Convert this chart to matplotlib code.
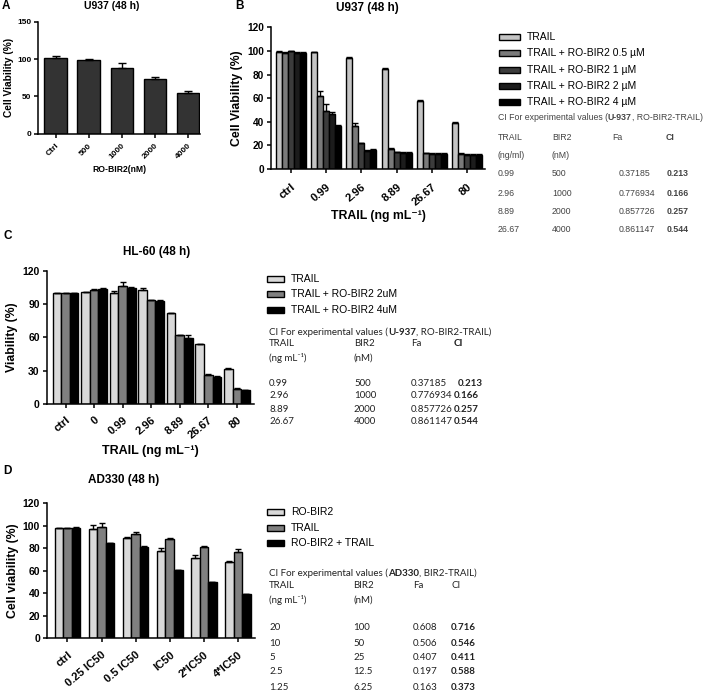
import numpy as np
import matplotlib
matplotlib.use('Agg')
import matplotlib.pyplot as plt
from matplotlib.patches import Rectangle

plt.rcParams['font.family'] = ['Liberation Sans', 'DejaVu Sans']

# ---- data ----
a_cats = ['Ctrl', '500', '1000', '2000', '4000']
a_vals = [101.2, 99.4, 87.8, 73.4, 55.0]
a_err = [2.7, 0.5, 7.6, 2.7, 2.3]

b_cats = ['ctrl', '0.99', '2.96', '8.89', '26.67', '80']
b_series = ['TRAIL', 'TRAIL + RO-BIR2 0.5 µM', 'TRAIL + RO-BIR2 1 µM',
            'TRAIL + RO-BIR2 2 µM', 'TRAIL + RO-BIR2 4 µM']
b_trail = [99.4, 98.9, 94.4, 84.5, 57.6, 38.7]
b_05 = [98.6, 62.1, 36.4, 17.2, 13.3, 12.7]
b_1 = [99.6, 49.2, 21.8, 14.1, 12.7, 11.9]
b_2 = [98.6, 46.3, 15.5, 13.8, 12.7, 12.1]
b_4 = [98.6, 36.4, 16.1, 13.8, 12.7, 12.1]
b_trail_err = [0.5, 0.6, 0.6, 1.0, 0.5, 0.8]
b_05_err = [0.5, 3.9, 2.3, 0.6, 0.5, 0.5]
b_1_err = [0.5, 5.8, 0.6, 0.5, 0.5, 0.5]
b_2_err = [0.5, 2.0, 0.5, 0.5, 0.5, 0.5]
b_4_err = [0.5, 0.5, 0.5, 0.5, 0.5, 0.5]

c_cats = ['ctrl', '0', '0.99', '2.96', '8.89', '26.67', '80']
c_series = ['TRAIL', 'TRAIL + RO-BIR2 2uM', 'TRAIL + RO-BIR2 4uM']
c_trail = [99.5, 100.5, 99.5, 102.5, 81.6, 53.7, 31.8]
c_2 = [99.5, 102.5, 106.0, 93.5, 61.8, 26.1, 13.6]
c_4 = [99.5, 103.5, 104.8, 93.0, 59.7, 24.4, 12.4]
c_trail_err = [0.4, 0.4, 2.0, 2.2, 0.5, 0.5, 0.5]
c_2_err = [0.4, 0.6, 4.0, 0.5, 0.5, 0.5, 0.4]
c_4_err = [0.4, 1.3, 0.8, 0.6, 2.1, 0.4, 0.4]

d_cats = ['ctrl', '0.25 IC50', '0.5 IC50', 'IC50', '2*IC50', '4*IC50']
d_series = ['RO-BIR2', 'TRAIL', 'RO-BIR2 + TRAIL']
d_bir2 = [97.5, 96.5, 89.3, 77.4, 70.9, 68.1]
d_trail = [97.5, 98.5, 92.6, 88.4, 81.0, 76.8]
d_comb = [98.0, 84.5, 81.0, 60.2, 49.8, 39.3]
d_bir2_err = [0.5, 4.2, 0.6, 3.0, 3.0, 0.8]
d_trail_err = [0.5, 4.0, 1.6, 0.5, 0.6, 2.2]
d_comb_err = [0.5, 0.4, 0.5, 0.4, 0.4, 0.4]

# table contents
b_tab_head = ['TRAIL', 'BIR2', 'Fa', 'CI']
b_tab_units = ['(ng/ml)', '(nM)']
b_tab_trail = ['0.99', '2.96', '8.89', '26.67']
b_tab_bir2 = ['500', '1000', '2000', '4000']
b_tab_fa = ['0.37185', '0.776934', '0.857726', '0.861147']
b_tab_ci = ['0.213', '0.166', '0.257', '0.544']

c_tab_trail = ['0.99', '2.96', '8.89', '26.67']
c_tab_bir2 = ['500', '1000', '2000', '4000']
c_tab_fa = ['0.37185', '0.776934', '0.857726', '0.861147']
c_tab_ci = ['0.213', '0.166', '0.257', '0.544']

d_tab_trail = ['20', '10', '5', '2.5', '1.25']
d_tab_bir2 = ['100', '50', '25', '12.5', '6.25']
d_tab_fa = ['0.608', '0.506', '0.407', '0.197', '0.163']
d_tab_ci = ['0.716', '0.546', '0.411', '0.588', '0.373']

W, H = 709, 694
fig = plt.figure(figsize=(W / 100, H / 100), dpi=100)


def px_axes(x0, y0, x1, y1):
    return fig.add_axes([x0 / W, 1 - y1 / H, (x1 - x0) / W, (y1 - y0) / H])


def fx(x):
    return x / W


def fy(y):
    return 1 - y / H


def style(ax, fs, xpad=2):
    for s in ['top', 'right']:
        ax.spines[s].set_visible(False)
    for s in ['left', 'bottom']:
        ax.spines[s].set_linewidth(1.1)
    ax.tick_params(direction='out', length=3, width=1.1, labelsize=fs, pad=2)
    ax.tick_params(axis='x', pad=xpad)
    for lab in ax.get_yticklabels():
        lab.set_fontweight('bold')


def grouped(ax, cats, vals, errs, colors, width):
    n = len(vals)
    x = np.arange(len(cats))
    for i, (v, e, c) in enumerate(zip(vals, errs, colors)):
        pos = x + (i - (n - 1) / 2) * width
        ax.bar(pos, v, width, color=c, edgecolor='black', linewidth=1.0, zorder=2)
        ax.errorbar(pos, v, yerr=[np.zeros(len(v)), e], fmt='none', ecolor='black',
                    elinewidth=1.0, capsize=2, capthick=1.0, zorder=3)
    ax.set_xticks(x)


def xlabels(ax, cats, fs, rot=45):
    ax.set_xticklabels(cats, rotation=rot, ha='right', rotation_mode='anchor',
                       fontsize=fs, fontweight='bold')


def legend_rows(x0, x1, ys, labels, colors, fs, h=6):
    for y, lab, c in zip(ys, labels, colors):
        fig.patches.append(Rectangle((fx(x0), fy(y + h / 2)), (x1 - x0) / W, h / H,
                                     transform=fig.transFigure, facecolor=c,
                                     edgecolor='black', linewidth=1.0))
        fig.text(fx(x1 + 7), fy(y), lab, fontsize=fs, va='center', ha='left')


def rainbow(x, y, parts, **kw):
    t = fig.text(fx(x), fy(y), parts[0][0], fontweight=parts[0][1], va='center', **kw)
    for s, w in parts[1:]:
        t = fig.axes[0].annotate(s, xy=(1, 0), xycoords=t, va='bottom', ha='left',
                                 fontweight=w, annotation_clip=False, **kw)


# ---- panel A ----
axA = px_axes(38.3, 22, 200, 133.7)
xa = np.arange(len(a_cats))
axA.bar(xa, a_vals, 0.68, color='#333333', edgecolor='black', linewidth=1.0, zorder=2)
axA.errorbar(xa, a_vals, yerr=[np.zeros(len(a_vals)), a_err], fmt='none', ecolor='black',
             elinewidth=1.0, capsize=3, capthick=1.0, zorder=3)
axA.set_xticks(xa)
axA.set_xlim(-0.52, 4.36)
axA.set_ylim(0, 150)
axA.set_yticks([0, 50, 100, 150])
style(axA, 6, xpad=3)
xlabels(axA, a_cats, 6)
axA.set_ylabel('Cell Viability (%)', fontsize=7.3, fontweight='bold', labelpad=2)
axA.set_xlabel('RO-BIR2(nM)', fontsize=6.2, fontweight='bold', labelpad=3)
fig.text(fx(112), fy(6), 'U937 (48 h)', fontsize=7.5, fontweight='bold', ha='center', va='center')
fig.text(fx(2), fy(6), 'A', fontsize=8.5, fontweight='bold', va='center')

# ---- panel B ----
axB = px_axes(271.3, 27.3, 485, 169)
b_colors = ['#c4c4c4', '#7a7a7a', '#3c3c3c', '#1c1c1c', '#000000']
grouped(axB, b_cats, [b_trail, b_05, b_1, b_2, b_4],
        [b_trail_err, b_05_err, b_1_err, b_2_err, b_4_err], b_colors, 0.17)
axB.set_xlim(-0.55, 5.5)
axB.set_ylim(0, 120)
axB.set_yticks(range(0, 121, 20))
style(axB, 7.3, xpad=6)
xlabels(axB, b_cats, 8, rot=40)
axB.set_ylabel('Cell Viability (%)', fontsize=8.8, fontweight='bold', labelpad=3)
axB.set_xlabel('TRAIL (ng mL⁻¹)', fontsize=8.8, fontweight='bold', labelpad=2)
fig.text(fx(367), fy(8), 'U937 (48 h)', fontsize=8.5, fontweight='bold', ha='center', va='center')
fig.text(fx(235), fy(6), 'B', fontsize=8.5, fontweight='bold', va='center')

legend_rows(499, 520, [37, 53, 70, 86, 102], b_series, b_colors, 7.5)
tb = dict(fontsize=6.3, color='#444444')
rainbow(498, 118, [('CI For experimental values (', 'normal'), ('U-937', 'bold'),
                   (', RO-BIR2-TRAIL)', 'normal')], **tb)
b_cols = [498, 552, 612, 666]
for xc, s in zip(b_cols, b_tab_head):
    fig.text(fx(xc), fy(137), s, va='center', fontweight='bold' if s == 'CI' else 'normal', **tb)
for xc, s in zip(b_cols, b_tab_units):
    fig.text(fx(xc), fy(156), s, va='center', **tb)
for i, y in enumerate([174, 193, 212, 230]):
    fig.text(fx(498), fy(y), b_tab_trail[i], va='center', **tb)
    fig.text(fx(552), fy(y), b_tab_bir2[i], va='center', **tb)
    fig.text(fx(619), fy(y), b_tab_fa[i], va='center', **tb)
    fig.text(fx(667), fy(y), b_tab_ci[i], va='center', fontweight='bold', **tb)

# ---- panel C ----
axC = px_axes(46.7, 270.7, 254, 404)
c_colors = ['#d9d9d9', '#808080', '#000000']
grouped(axC, c_cats, [c_trail, c_2, c_4], [c_trail_err, c_2_err, c_4_err], c_colors, 0.3)
axC.set_xlim(-0.66, 6.6)
axC.set_ylim(0, 120)
axC.set_yticks(range(0, 121, 30))
style(axC, 7.5, xpad=5)
xlabels(axC, c_cats, 8, rot=40)
axC.set_ylabel('Viability (%)', fontsize=8.8, fontweight='bold', labelpad=3)
axC.set_xlabel('TRAIL (ng mL⁻¹)', fontsize=9, fontweight='bold', labelpad=3)
fig.text(fx(157), fy(252), 'HL-60 (48 h)', fontsize=8.5, fontweight='bold', ha='center', va='center')
fig.text(fx(3), fy(236), 'C', fontsize=8.5, fontweight='bold', va='center')

legend_rows(267, 284, [279, 294, 310], c_series, c_colors, 7.5)
tc = dict(fontsize=7, color='#222222', family=['Lato', 'DejaVu Sans'])
rainbow(269, 332, [('CI For experimental values (', 'normal'), ('U-937', 'bold'),
                   (', RO-BIR2-TRAIL)', 'normal')], **tc)
fig.text(fx(269), fy(344), 'TRAIL', va='center', **tc)
fig.text(fx(354), fy(344), 'BIR2', va='center', **tc)
fig.text(fx(411), fy(344), 'Fa', va='center', **tc)
fig.text(fx(454), fy(344), 'CI', va='center', fontweight='bold', **tc)
fig.text(fx(269), fy(358), '(ng mL⁻¹)', va='center', **tc)
fig.text(fx(354), fy(358), '(nM)', va='center', **tc)
for i, y in enumerate([383, 396, 409, 422]):
    fig.text(fx(269), fy(y), c_tab_trail[i], va='center', **tc)
    fig.text(fx(354), fy(y), c_tab_bir2[i], va='center', **tc)
    fig.text(fx(411), fy(y), c_tab_fa[i], va='center', **tc)
    fig.text(fx(458 if i == 0 else 454), fy(y), c_tab_ci[i], va='center', fontweight='bold', **tc)

# ---- panel D ----
axD = px_axes(47, 503, 255, 638.3)
d_colors = ['#d9d9d9', '#808080', '#000000']
grouped(axD, d_cats, [d_bir2, d_trail, d_comb], [d_bir2_err, d_trail_err, d_comb_err],
        d_colors, 0.25)
axD.set_xlim(-0.6, 5.5)
axD.set_ylim(0, 120)
axD.set_yticks(range(0, 121, 20))
style(axD, 7.5, xpad=5)
xlabels(axD, d_cats, 8, rot=40)
axD.set_ylabel('Cell viability (%)', fontsize=8.8, fontweight='bold', labelpad=3)
fig.text(fx(124), fy(480), 'AD330 (48 h)', fontsize=8.5, fontweight='bold', ha='center', va='center')
fig.text(fx(3), fy(471), 'D', fontsize=8.5, fontweight='bold', va='center')

legend_rows(267, 284, [512, 528, 543], d_series, d_colors, 7.5)
rainbow(269, 573, [('CI For experimental values (', 'normal'), ('AD330', 'bold'),
                   (', BIR2-TRAIL)', 'normal')], **tc)
fig.text(fx(269), fy(586), 'TRAIL', va='center', **tc)
fig.text(fx(353), fy(586), 'BIR2', va='center', **tc)
fig.text(fx(413), fy(586), 'Fa', va='center', **tc)
fig.text(fx(452), fy(586), 'CI', va='center', **tc)
fig.text(fx(269), fy(600), '(ng mL⁻¹)', va='center', **tc)
fig.text(fx(353), fy(600), '(nM)', va='center', **tc)
for i, y in enumerate([628, 643, 657, 672, 687]):
    fig.text(fx(269), fy(y), d_tab_trail[i], va='center', **tc)
    fig.text(fx(353), fy(y), d_tab_bir2[i], va='center', **tc)
    fig.text(fx(413), fy(y), d_tab_fa[i], va='center', **tc)
    fig.text(fx(451), fy(y), d_tab_ci[i], va='center', fontweight='bold', **tc)

fig.savefig('out.png', dpi=100)
